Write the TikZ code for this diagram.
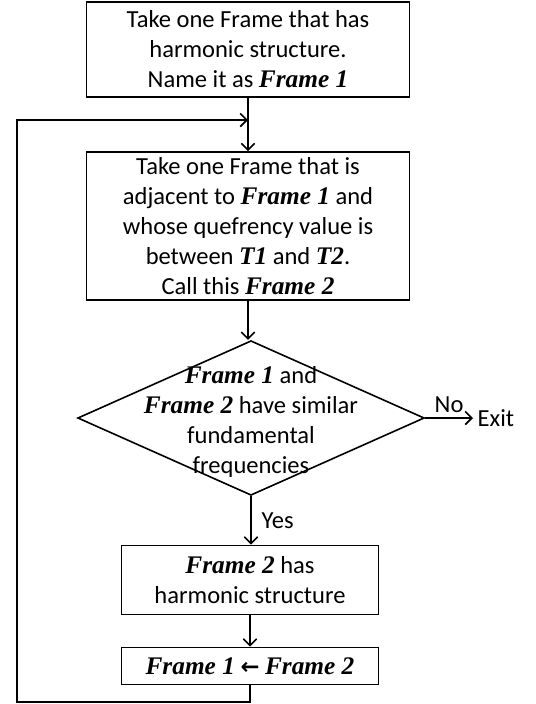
\documentclass[tikz,border=0pt]{standalone}
\usepackage{fontspec}
\setmainfont{Carlito}
\newfontfamily\framefont{Liberation Serif}[BoldItalicFont={* Bold Italic}]
\newfontfamily\arrowfont{DejaVu Sans}
\usetikzlibrary{shapes.geometric, arrows.meta}
\newcommand{\frm}[1]{{\framefont\bfseries\itshape\fontsize{19}{22}\selectfont #1}}

\begin{document}
\begin{tikzpicture}[x=0.75pt, y=-0.75pt,
    every node/.style={font=\fontsize{18.4}{22.5}\selectfont},
    procbox/.style={rectangle, draw, line width=1.2pt, align=center, inner sep=0pt},
    testbox/.style={diamond, draw, line width=1.2pt, inner sep=0pt, minimum width=260pt, minimum height=116pt},
    flow/.style={-{Straight Barb[length=5pt, width=10pt]}, line width=1.2pt}]
    \useasboundingbox (0,0) rectangle (536,704);

    % Process boxes
    \node[procbox, minimum width=242pt, minimum height=71pt] (FIRST) at (248,49.5) {Take one Frame that has\\harmonic structure.\\Name it as \frm{Frame 1}};
    \node[procbox, minimum width=242pt, minimum height=111pt] (NEXT) at (248,226) {Take one Frame that is\\adjacent to \frm{Frame 1} and\\whose quefrency value is\\between \frm{T1} and \frm{T2}.\\Call this \frm{Frame 2}};

    % Decision
    \node[testbox] (TEST) at (251,418) {};
    \node[align=center] (TESTTXT) at (251,422) {\frm{Frame 1} and\\\frm{Frame 2} have similar\\fundamental\\frequencies};
    \node[anchor=west] (EXIT) at (473,418) {Exit};

    % Result boxes
    \node[procbox, minimum width=193pt, minimum height=52pt] (HARM) at (250,580) {\frm{Frame 2} has\\harmonic structure};
    \node[procbox, minimum width=193pt, minimum height=28pt] (SWAP) at (250,666) {\frm{Frame 1} {\arrowfont\bfseries\fontsize{17}{22}\selectfont\char"2190} \frm{Frame 2}};

    % Loop corners
    \coordinate (JOIN) at (248,120);
    \coordinate (LOOPBL) at (17,702);
    \coordinate (LOOPTL) at (17,120);

    % Connections
    \draw[flow] (FIRST) -- (NEXT);
    \draw[flow] (NEXT.south) -- (NEXT.south |- TEST.north);
    \draw[flow] (TEST.east) -- (EXIT.west) node[midway, above] {No};
    \draw[flow] (TEST.south) -- (TEST.south |- HARM.north) node[midway, right=4pt] {Yes};
    \draw[flow] (HARM) -- (SWAP);
    \draw[flow] (SWAP.south) |- (LOOPBL) -- (LOOPTL) -- (JOIN);
\end{tikzpicture}
\end{document}
